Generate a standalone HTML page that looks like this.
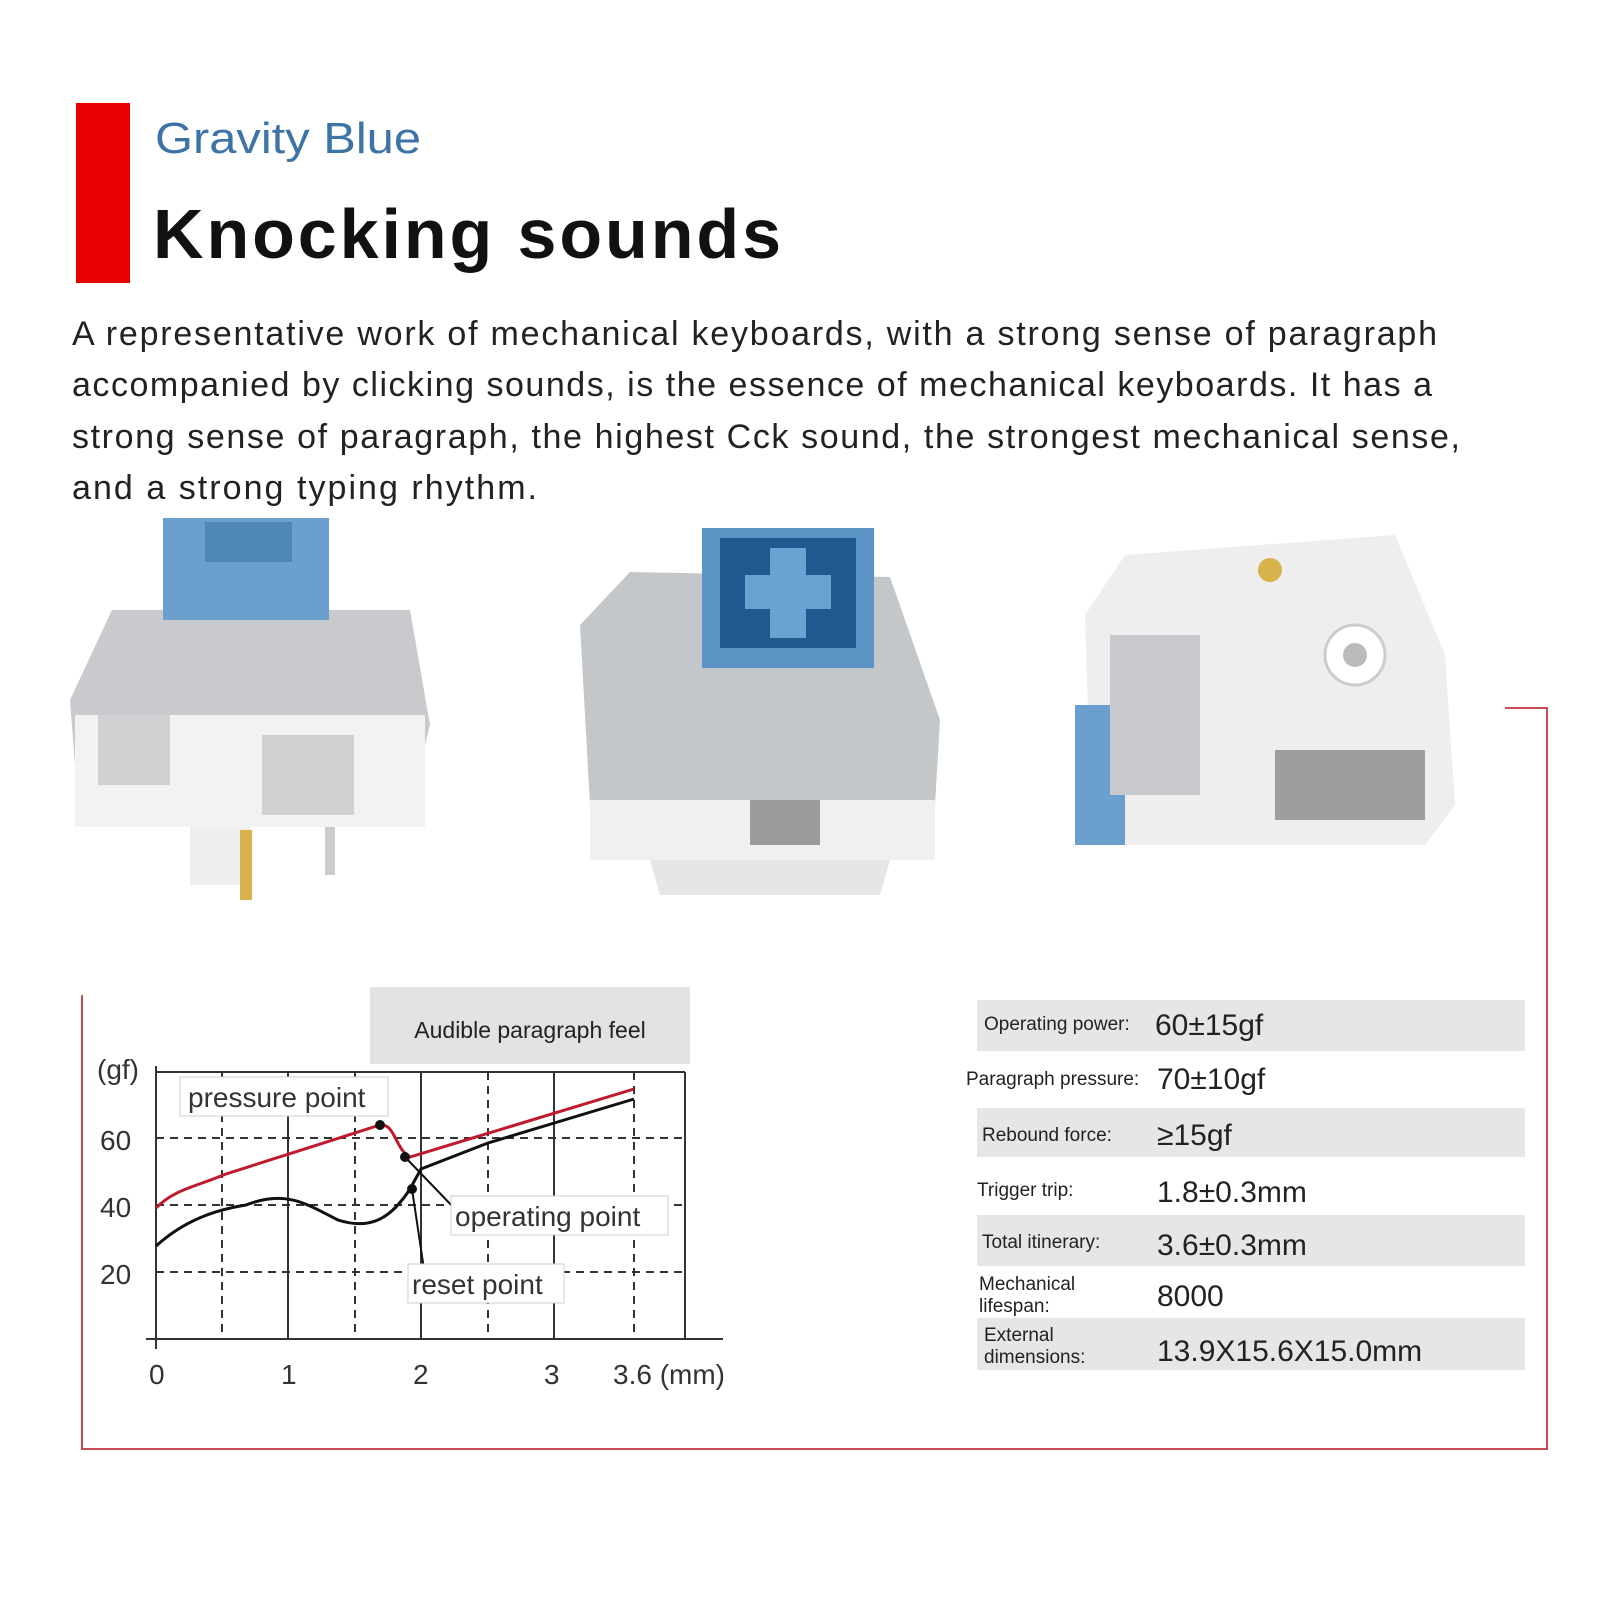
<!DOCTYPE html>
<html><head><meta charset="utf-8"><style>
body{margin:0;background:#fff;}
svg{display:block;font-family:"Liberation Sans",sans-serif;}
</style></head><body>
<svg width="1600" height="1600" viewBox="0 0 1600 1600" xmlns="http://www.w3.org/2000/svg">
<rect width="1600" height="1600" fill="#fff"/>
<rect x="76" y="103" width="54" height="180" fill="#e60000"/>
<text x="155" y="153" font-size="44" fill="#3d74a5" textLength="266" lengthAdjust="spacingAndGlyphs">Gravity Blue</text>
<text x="153" y="258" font-size="70" font-weight="bold" fill="#111" textLength="628" lengthAdjust="spacing">Knocking sounds</text>
<g font-size="34" fill="#222">
<text x="72" y="345" textLength="1365" lengthAdjust="spacing">A representative work of mechanical keyboards, with a strong sense of paragraph</text>
<text x="72" y="396" textLength="1360" lengthAdjust="spacing">accompanied by clicking sounds, is the essence of mechanical keyboards. It has a</text>
<text x="72" y="448" textLength="1388" lengthAdjust="spacing">strong sense of paragraph, the highest Cck sound, the strongest mechanical sense,</text>
<text x="72" y="499" textLength="465" lengthAdjust="spacing">and a strong typing rhythm.</text>
</g>
<!-- switch 1 -->
<g>
<rect x="190" y="790" width="60" height="95" fill="#eee"/>
<rect x="240" y="830" width="12" height="70" fill="#d8b24a"/>
<rect x="325" y="810" width="10" height="65" fill="#ccc"/>
<polygon points="70,700 112,610 410,610 430,725 420,765 75,765" fill="#c8cacd"/>
<rect x="75" y="715" width="350" height="112" fill="#f2f2f2"/>
<rect x="98" y="715" width="72" height="70" fill="#cfd1d3"/>
<rect x="262" y="735" width="92" height="80" fill="#d0d0d0"/>
<rect x="163" y="518" width="166" height="102" fill="#6b9fcd"/>
<rect x="205" y="522" width="87" height="40" fill="#4f86b8"/>
</g>
<!-- switch 2 -->
<g>
<polygon points="580,625 630,572 890,577 940,720 935,805 590,805" fill="#c4c7ca"/>
<rect x="590" y="800" width="345" height="60" fill="#f0f0f0"/>
<polygon points="650,860 890,860 880,895 660,895" fill="#e6e6e6"/>
<rect x="750" y="800" width="70" height="45" fill="#9c9c9c"/>
<rect x="702" y="528" width="172" height="140" fill="#5a93c4"/>
<rect x="720" y="538" width="136" height="110" fill="#1f5a8e"/>
<rect x="770" y="548" width="36" height="90" fill="#6aa3d2"/>
<rect x="745" y="575" width="86" height="34" fill="#6aa3d2"/>
</g>
<!-- switch 3 -->
<g>
<polygon points="1085,615 1125,555 1395,535 1445,655 1455,805 1425,845 1125,845 1090,775" fill="#eeeeee"/>
<rect x="1075" y="705" width="50" height="140" fill="#6b9fcd"/>
<rect x="1110" y="635" width="90" height="160" fill="#c7c9cc"/>
<rect x="1275" y="750" width="150" height="70" fill="#9e9e9e"/>
<circle cx="1355" cy="655" r="30" fill="#fff" stroke="#ccc" stroke-width="3"/>
<circle cx="1355" cy="655" r="12" fill="#bbb"/>
<circle cx="1270" cy="570" r="12" fill="#d8b24a"/>
</g>
<!-- frame -->
<g stroke="#c84a55" stroke-width="2" fill="none">
<polyline points="82,995 82,1449 1547,1449 1547,708 1505,708"/>
</g>
<!-- chart -->
<rect x="370" y="987" width="320" height="77" fill="#e2e2e2"/>
<text x="530" y="1038" font-size="23" text-anchor="middle" fill="#222">Audible paragraph feel</text>
<g stroke="#333" stroke-width="2" stroke-dasharray="8,6" fill="none">
<line x1="156" y1="1138" x2="685" y2="1138"/><line x1="156" y1="1205" x2="685" y2="1205"/><line x1="156" y1="1272" x2="685" y2="1272"/>
<line x1="222" y1="1072" x2="222" y2="1339"/><line x1="355" y1="1072" x2="355" y2="1339"/><line x1="488" y1="1072" x2="488" y2="1339"/><line x1="634" y1="1072" x2="634" y2="1339"/>
</g>
<g stroke="#333" stroke-width="2" fill="none">
<line x1="156" y1="1072" x2="685" y2="1072"/><line x1="685" y1="1072" x2="685" y2="1339"/>
<line x1="288" y1="1072" x2="288" y2="1339"/><line x1="421" y1="1072" x2="421" y2="1339"/><line x1="554" y1="1072" x2="554" y2="1339"/>
<line x1="156" y1="1066" x2="156" y2="1349"/><line x1="146" y1="1339" x2="723" y2="1339"/>
</g>
<path d="M156,1246 C185,1220 215,1210 246,1205 C287,1189 308,1205 338,1220 C369,1230 390,1220 410,1189 L421,1169 L488,1143 L634,1099" stroke="#111" stroke-width="3" fill="none"/>
<path d="M156,1208 C175,1189 195,1187 226,1174 L380,1125 C395,1123 395,1149 410,1157 L634,1089" stroke="#c0182c" stroke-width="3" fill="none"/>
<circle cx="380" cy="1125" r="5" fill="#111"/><circle cx="405" cy="1157" r="5" fill="#111"/><circle cx="412" cy="1189" r="5" fill="#111"/>
<line x1="405" y1="1157" x2="456" y2="1210" stroke="#111" stroke-width="2"/>
<line x1="412" y1="1189" x2="425" y2="1276" stroke="#111" stroke-width="2"/>
<g font-size="28" fill="#333">
<rect x="180" y="1077" width="208" height="39" fill="#fff" stroke="#ccc"/><text x="188" y="1107">pressure point</text>
<rect x="451" y="1196" width="217" height="39" fill="#fff" stroke="#ccc"/><text x="455" y="1226">operating point</text>
<rect x="408" y="1264" width="156" height="39" fill="#fff" stroke="#ccc"/><text x="412" y="1294">reset point</text>
<text x="97" y="1079">(gf)</text>
<text x="100" y="1150">60</text><text x="100" y="1217">40</text><text x="100" y="1284">20</text>
<text x="149" y="1384">0</text><text x="281" y="1384">1</text><text x="413" y="1384">2</text><text x="544" y="1384">3</text><text x="613" y="1384">3.6 (mm)</text>
</g>
<!-- table -->
<g fill="#e6e6e6">
<rect x="977" y="1000" width="548" height="51"/><rect x="977" y="1108" width="548" height="49"/>
<rect x="977" y="1215" width="548" height="51"/><rect x="977" y="1318" width="548" height="52"/>
</g>
<g font-size="19" fill="#222">
<text x="984" y="1030">Operating power:</text>
<text x="966" y="1085">Paragraph pressure:</text>
<text x="982" y="1141">Rebound force:</text>
<text x="977" y="1196">Trigger trip:</text>
<text x="982" y="1248">Total itinerary:</text>
<text x="979" y="1290">Mechanical</text><text x="979" y="1312">lifespan:</text>
<text x="984" y="1341">External</text><text x="984" y="1363">dimensions:</text>
</g>
<g font-size="30" fill="#222">
<text x="1155" y="1035">60±15gf</text>
<text x="1157" y="1089">70±10gf</text>
<text x="1157" y="1145">≥15gf</text>
<text x="1157" y="1202">1.8±0.3mm</text>
<text x="1157" y="1255">3.6±0.3mm</text>
<text x="1157" y="1306">8000</text>
<text x="1157" y="1361">13.9X15.6X15.0mm</text>
</g>
</svg>
</body></html>
